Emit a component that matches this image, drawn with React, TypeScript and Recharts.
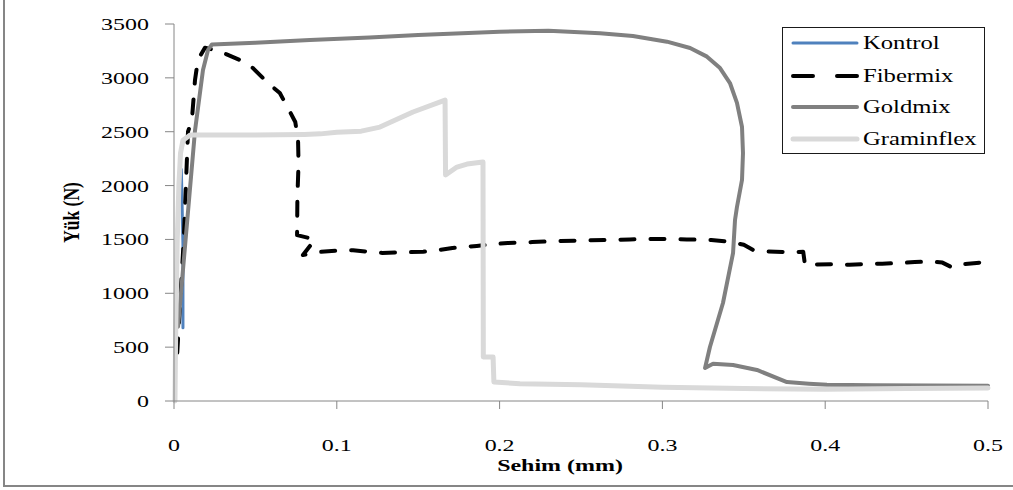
import { Label, Line, LineChart, XAxis, YAxis } from "recharts";

// deflection (mm), load (N)
const kontrol: [number, number][] = [
  [0.0055, 680],
  [0.0055, 1450],
  [0.0045, 2150],
];

const fibermix: [number, number][] = [
  [0.002, 450], [0.006, 1500], [0.0086, 2500], [0.011, 2610], [0.0129, 2980],
  [0.0147, 3166], [0.019, 3280], [0.024, 3262], [0.032, 3220], [0.0405, 3166],
  [0.0485, 3091], [0.057, 2962], [0.065, 2859], [0.07, 2720], [0.0745, 2590],
  [0.0762, 2423], [0.0765, 2200], [0.0758, 1900], [0.0756, 1540], [0.0866, 1500],
  [0.0792, 1355], [0.09, 1385], [0.1, 1395], [0.11, 1400], [0.12, 1385],
  [0.128, 1375], [0.14, 1380], [0.153, 1385], [0.162, 1400], [0.171, 1420],
  [0.186, 1440], [0.195, 1455], [0.205, 1467], [0.22, 1475], [0.235, 1485],
  [0.25, 1490], [0.265, 1495], [0.28, 1500], [0.29, 1505], [0.3, 1505],
  [0.315, 1500], [0.33, 1495], [0.3415, 1478], [0.35, 1450], [0.3557, 1402],
  [0.365, 1388], [0.3765, 1383], [0.3865, 1385], [0.3876, 1262], [0.395, 1268],
  [0.405, 1270], [0.415, 1265], [0.425, 1272], [0.435, 1275], [0.445, 1280],
  [0.455, 1290], [0.465, 1295], [0.472, 1285], [0.478, 1240], [0.485, 1270],
  [0.493, 1282], [0.5, 1290],
];

const goldmix: [number, number][] = [
  [0.0025, 690], [0.0129, 2510], [0.0178, 3073], [0.0209, 3259], [0.0233, 3310],
  [0.05, 3325], [0.0835, 3351], [0.12, 3375], [0.15, 3398], [0.2, 3428],
  [0.23, 3438], [0.2617, 3414], [0.2819, 3389], [0.3028, 3336], [0.317, 3277],
  [0.3274, 3197], [0.3354, 3091], [0.3415, 2952], [0.3458, 2767], [0.3489, 2544],
  [0.3495, 2302], [0.3489, 2052], [0.3458, 1801], [0.3446, 1680], [0.3434, 1374],
  [0.3372, 910], [0.3292, 501], [0.3262, 306], [0.3311, 345], [0.3434, 334],
  [0.3581, 288], [0.3765, 176], [0.39, 160], [0.4011, 150], [0.43, 146],
  [0.5, 142],
];

const graminflex: [number, number][] = [
  [0.0006, 0], [0.001, 600], [0.002, 1500], [0.003, 2000], [0.004, 2300],
  [0.0055, 2420], [0.01, 2470], [0.05, 2470], [0.08, 2475], [0.09, 2480],
  [0.1, 2495], [0.115, 2505], [0.1265, 2543], [0.1468, 2683], [0.1665, 2794],
  [0.1668, 2098], [0.1738, 2172], [0.18, 2200], [0.1898, 2219], [0.19, 408],
  [0.196, 408], [0.1965, 176], [0.2125, 160], [0.25, 150], [0.3, 128],
  [0.35, 115], [0.4, 108], [0.45, 115], [0.5, 120],
];

const xTicks = [0, 0.1, 0.2, 0.3, 0.4, 0.5];
const yTicks = [0, 500, 1000, 1500, 2000, 2500, 3000, 3500];

const SERIF = "'Liberation Serif', 'Times New Roman', serif";
const SX = 1.37; // the source image is stretched horizontally
const AXIS = "#868686";

const series = [
  { name: "Kontrol", pts: kontrol, color: "#4f81bd", width: 3, dash: undefined },
  { name: "Fibermix", pts: fibermix, color: "#000000", width: 4, dash: "14 16" },
  { name: "Goldmix", pts: goldmix, color: "#808080", width: 4, dash: undefined },
  { name: "Graminflex", pts: graminflex, color: "#d9d9d9", width: 5, dash: undefined },
];

function WideText(props: any) {
  const { x, y, anchor = "start", size = 17.5, bold, rotate, children } = props;
  return (
    <text
      transform={`translate(${x},${y}) scale(${SX},1)${rotate ? ` rotate(${rotate})` : ""}`}
      textAnchor={anchor}
      dominantBaseline={rotate ? "central" : undefined}
      fontFamily={SERIF}
      fontSize={size}
      fontWeight={bold ? "bold" : "normal"}
      fill="#000"
    >
      {children}
    </text>
  );
}

const XTick = (p: any) => (
  <WideText x={p.x} y={p.y + 40} anchor="middle">
    {p.payload.value}
  </WideText>
);

const YTick = (p: any) => (
  <WideText x={p.x - 14} y={p.y + 6} anchor="end">
    {p.payload.value}
  </WideText>
);

function LegendBox() {
  const rows = [15, 48, 79, 111];
  return (
    <div
      style={{
        position: "absolute",
        left: 782,
        top: 27,
        width: 201,
        height: 125,
        border: "1px solid #1a1a1a",
        background: "#fff",
      }}
    >
      <svg width={201} height={125} style={{ display: "block" }}>
        {series.map((s, i) => (
          <g key={s.name}>
            <line
              x1={10}
              x2={74}
              y1={rows[i]}
              y2={rows[i]}
              stroke={s.color}
              strokeWidth={s.width}
              strokeLinecap="round"
              strokeDasharray={s.dash ? "20 24" : undefined}
            />
            <WideText x={80} y={rows[i] + 6} size={18}>
              {s.name}
            </WideText>
          </g>
        ))}
      </svg>
    </div>
  );
}

export default function App() {
  return (
    <div style={{ position: "absolute", left: 0, top: 0, width: 1013, height: 490, background: "#fff" }}>
      <div
        style={{
          position: "absolute",
          left: 3,
          top: -2,
          width: 1020,
          height: 487,
          borderLeft: `2px solid ${AXIS}`,
          borderBottom: `2px solid ${AXIS}`,
        }}
      />
      <LineChart width={1013} height={490} margin={{ top: 24, right: 25, bottom: 0, left: 0 }}>
        <XAxis
          type="number"
          dataKey="x"
          domain={[0, 0.5]}
          ticks={xTicks}
          interval={0}
          height={89}
          tickSize={8}
          axisLine={{ stroke: AXIS }}
          tickLine={{ stroke: AXIS }}
          tick={<XTick />}
        >
          <Label
            content={(p: any) => (
              <WideText x={p.viewBox.x + p.viewBox.width / 2 - 21} y={471} anchor="middle" bold>
                Sehim (mm)
              </WideText>
            )}
          />
        </XAxis>
        <YAxis
          type="number"
          dataKey="y"
          domain={[0, 3500]}
          ticks={yTicks}
          interval={0}
          width={174}
          tickSize={9}
          axisLine={{ stroke: AXIS }}
          tickLine={{ stroke: AXIS }}
          tick={<YTick />}
        >
          <Label
            content={(p: any) => (
              <WideText x={71} y={p.viewBox.y + p.viewBox.height / 2} anchor="middle" bold rotate={-90}>
                Yük (N)
              </WideText>
            )}
          />
        </YAxis>
        {series.map((s) => (
          <Line
            key={s.name}
            name={s.name}
            data={s.pts.map(([x, y]) => ({ x, y }))}
            dataKey="y"
            type="linear"
            stroke={s.color}
            strokeWidth={s.width}
            strokeDasharray={s.dash}
            strokeLinecap="round"
            strokeLinejoin="round"
            dot={false}
            activeDot={false}
            isAnimationActive={false}
          />
        ))}
      </LineChart>
      <LegendBox />
    </div>
  );
}
